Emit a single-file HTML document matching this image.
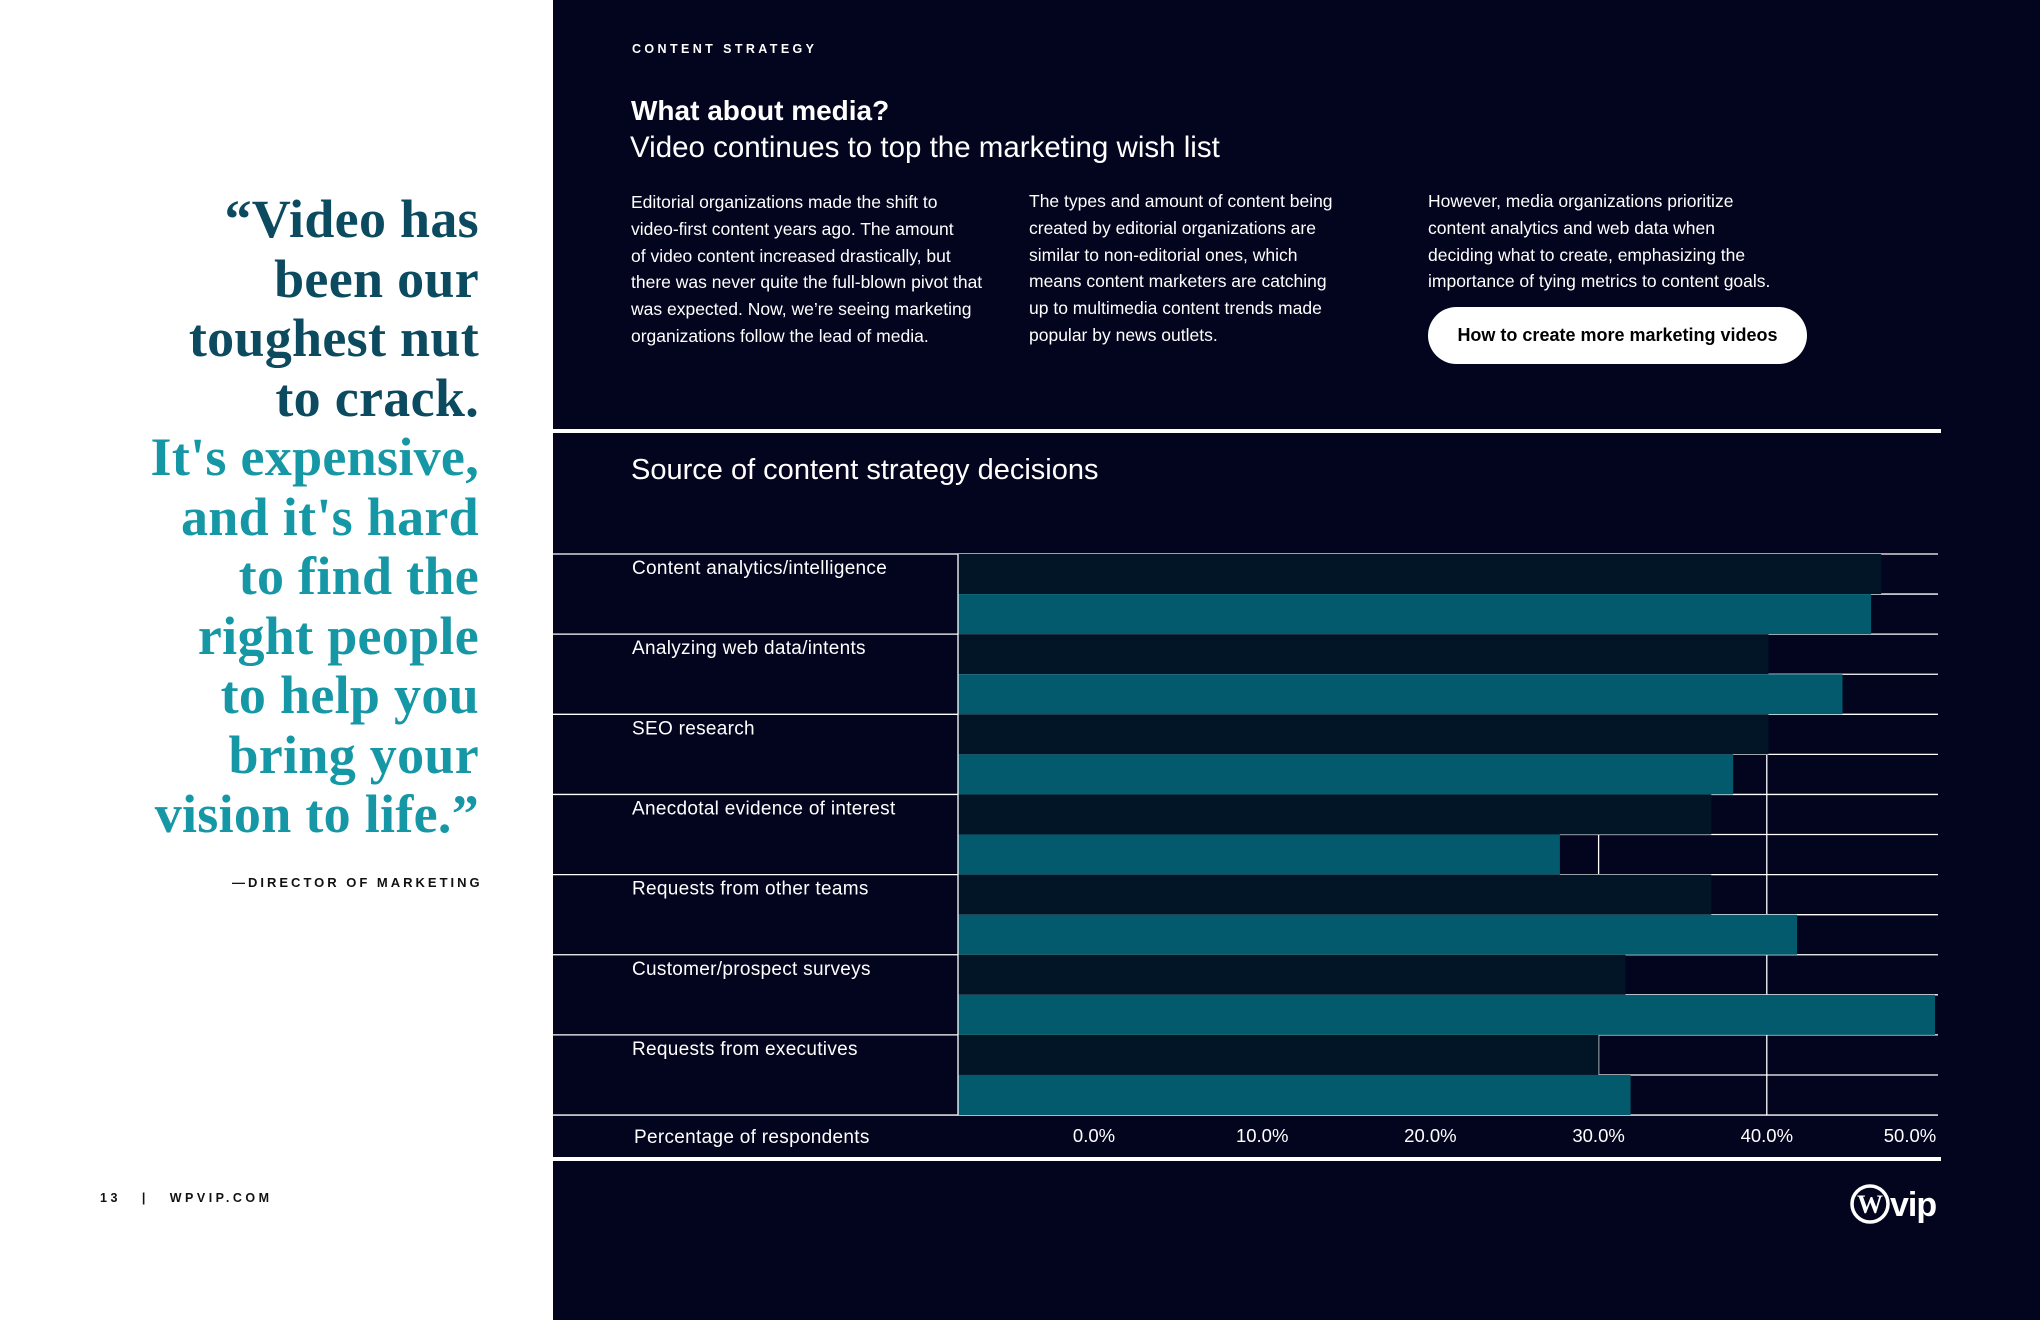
<!DOCTYPE html>
<html><head><meta charset="utf-8">
<style>
html,body{margin:0;padding:0}
body{width:2040px;height:1320px;position:relative;overflow:hidden;background:#fff;font-family:"Liberation Sans",sans-serif}
.panel{position:absolute;left:553px;top:0;width:1487px;height:1320px;background:#03051e}
.abs{position:absolute;white-space:nowrap}
.quote{position:absolute;right:1561px;top:190px;text-align:right;font-family:"Liberation Serif",serif;font-weight:bold;font-size:54px;line-height:59.5px;letter-spacing:0.3px}
.q1{color:#0b4a5f}.q2{color:#1597a5}
.para{position:absolute;color:#fff;font-size:17.5px;line-height:26.8px;white-space:nowrap}
</style></head><body>
<div class="quote"><span class="q1">“Video has<br>been our<br>toughest nut<br>to crack.</span><br><span class="q2">It's expensive,<br>and it's hard<br>to find the<br>right people<br>to help you<br>bring your<br>vision to life.”</span></div>
<div class="abs" style="left:232px;top:875px;font-size:13px;font-weight:bold;letter-spacing:3px;color:#111">—DIRECTOR OF MARKETING</div>
<div class="abs" style="left:100px;top:1191px;font-size:12.5px;font-weight:bold;letter-spacing:3.5px;color:#111">13 &nbsp; | &nbsp; WPVIP.COM</div>

<div class="panel"></div>
<div class="abs" style="left:632px;top:42px;font-size:12.5px;font-weight:bold;letter-spacing:3.4px;color:#fff">CONTENT STRATEGY</div>
<div class="abs" style="left:631px;top:95px;font-size:28px;font-weight:bold;color:#fff">What about media?</div>
<div class="abs" style="left:630px;top:131px;font-size:29.5px;color:#fff">Video continues to top the marketing wish list</div>
<div class="para" style="left:631px;top:189px">Editorial organizations made the shift to<br>video-first content years ago. The amount<br>of video content increased drastically, but<br>there was never quite the full-blown pivot that<br>was expected. Now, we’re seeing marketing<br>organizations follow the lead of media.</div>
<div class="para" style="left:1029px;top:188px">The types and amount of content being<br>created by editorial organizations are<br>similar to non-editorial ones, which<br>means content marketers are catching<br>up to multimedia content trends made<br>popular by news outlets.</div>
<div class="para" style="left:1428px;top:188px">However, media organizations prioritize<br>content analytics and web data when<br>deciding what to create, emphasizing the<br>importance of tying metrics to content goals.</div>
<div class="abs" style="left:1428px;top:307px;width:379px;height:57px;border-radius:29px;background:#fff;color:#000;font-size:18px;font-weight:bold;line-height:57px;text-align:center">How to create more marketing videos</div>

<div class="abs" style="left:553px;top:429px;width:1388px;height:4px;background:#fff"></div>
<div class="abs" style="left:631px;top:454px;font-size:29px;color:#fff">Source of content strategy decisions</div>
<div class="abs" style="left:99px;top:1157px;width:1842px;height:4px;background:#fff"></div>

<svg id="chart" style="position:absolute;left:0;top:0" width="2040" height="1320"></svg>

<svg style="position:absolute;left:1850px;top:1183px" width="92" height="42" viewBox="0 0 92 42">
<circle cx="20" cy="21" r="18" fill="none" stroke="#fff" stroke-width="3.5"/>
<text x="20" y="30" text-anchor="middle" font-family="Liberation Serif,serif" font-weight="bold" font-size="26" fill="#fff">W</text>
<text x="40" y="33" font-family="Liberation Sans,sans-serif" font-weight="bold" font-size="34" fill="#fff" letter-spacing="-1">vip</text>
</svg>

<script>
const categories = ["Content analytics/intelligence","Analyzing web data/intents","SEO research","Anecdotal evidence of interest","Requests from other teams","Customer/prospect surveys","Requests from executives"];
const seriesA = [46.8, 40.1, 40.1, 36.7, 36.7, 31.6, 30.0];
const seriesB = [46.2, 44.5, 38.0, 27.7, 41.8, 50.0, 31.9];
const ticks = [0, 10, 20, 30, 40, 50];
const tickLabels = ["0.0%","10.0%","20.0%","30.0%","40.0%","50.0%"];
const gridValues = [30, 40];

const svg = document.getElementById('chart');
const NS = 'http://www.w3.org/2000/svg';
const top0 = 554, rowH = 80.15, labelL = 553, barL = 958, right = 1938;
const x = v => 1094 + v * 16.82;
function mk(tag, attrs){ const e = document.createElementNS(NS, tag); for (const k in attrs) e.setAttribute(k, attrs[k]); svg.appendChild(e); return e; }

gridValues.forEach(g => {
  const l = mk('line', {x1:x(g), x2:x(g), y1:top0, y2:top0 + rowH*categories.length, stroke:'#fff', 'stroke-width':1.3});
  
  
});
for (let i = 0; i <= categories.length; i++) {
  const y = top0 + i*rowH;
  const l = mk('line', {x1:labelL, x2:right, y1:y, y2:y, stroke:'#fff', 'stroke-width':1.3});
  
  
  if (i < categories.length) {
    const m = mk('line', {x1:barL, x2:right, y1:y + rowH/2, y2:y + rowH/2, stroke:'#fff', 'stroke-width':1.3});
    
    
  }
}
categories.forEach((c, i) => {
  const y = top0 + i*rowH;
  const a = mk('rect', {x:barL, y:y, width:Math.max(0, x(seriesA[i]) - barL), height:rowH/2, fill:'#011527'});
  
  
  const b = mk('rect', {x:barL, y:y + rowH/2, width:Math.max(0, x(seriesB[i]) - barL), height:rowH/2, fill:'#035a6d'});
  
  
  const t = mk('text', {x:632, y:y + 20, fill:'#fff', 'font-size':19, 'font-family':'Liberation Sans, sans-serif', 'letter-spacing':0.3});
  t.textContent = c;
  
  
});
const vl = mk('line', {x1:barL, x2:barL, y1:top0, y2:top0 + rowH*categories.length, stroke:'#fff', 'stroke-width':1.3});



const at = mk('text', {x:634, y:1143, fill:'#fff', 'font-size':19, 'font-family':'Liberation Sans, sans-serif', 'letter-spacing':0.3});
at.textContent = 'Percentage of respondents';


ticks.forEach((v, i) => {
  const t = mk('text', {x:Math.min(x(v), 1910), y:1142, fill:'#fff', 'font-size':18.5, 'text-anchor':'middle', 'font-family':'Liberation Sans, sans-serif'});
  t.textContent = tickLabels[i];
  
  
});
</script>
</body></html>
